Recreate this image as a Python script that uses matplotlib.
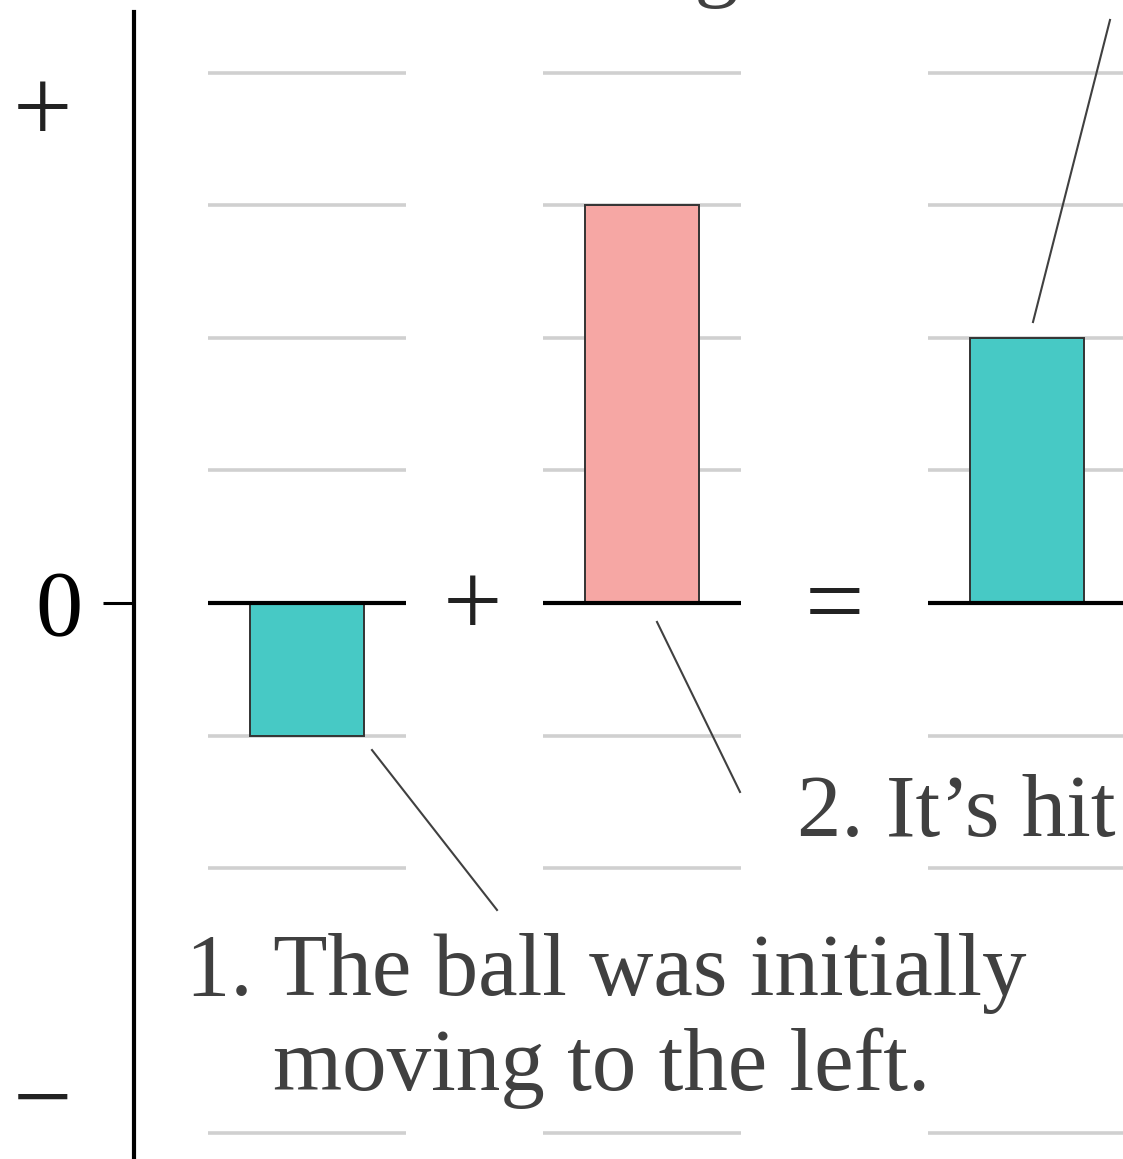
import matplotlib.pyplot as plt
import matplotlib as mpl

mpl.rcParams['font.family'] = 'Liberation Serif'

# momentum bar chart values (grid units)
labels = ['initial', 'impulse', 'final']
values = [-1, 3, 2]
bar_colors = ['#47c9c5', '#f6a7a4', '#47c9c5']
grid_levels = [-4, -2, -1, 1, 2, 3, 4]

# layout (x in units of 100 px from the axis, y in grid units)
group_x = [1.73, 5.075, 8.925]
bar_w = 1.14
half_line = 0.99
text_col = '#404040'
fs = 64
sign_fs = 76

fig = plt.figure(figsize=(11.23, 11.59), dpi=100)
ax = fig.add_axes([134 / 1123, 0, 1 - 134 / 1123, 1147 / 1159])
ax.set_xlim(0, 9.89)
ax.set_ylim(-4.193, 4.457)

for sp in ['top', 'right', 'bottom']:
    ax.spines[sp].set_visible(False)
ax.spines['left'].set_linewidth(3)
ax.set_xticks([])
ax.set_yticks([0])
ax.set_yticklabels(['0'], fontsize=68)
ax.tick_params(axis='y', length=22, width=2.2, pad=15)

# light grid rows and black zero line for each group
for gx in group_x:
    for lv in grid_levels:
        ax.plot([gx - half_line, gx + half_line], [lv, lv], color='#d0d0d0',
                lw=2.6, solid_capstyle='butt', zorder=1)

ax.bar(group_x, values, width=bar_w, color=bar_colors, edgecolor='#333333',
       linewidth=1.4, zorder=2)

for gx in group_x:
    ax.plot([gx - half_line, gx + half_line], [0, 0], color='black',
            lw=3, solid_capstyle='butt', zorder=3, clip_on=False)

# operators between groups
ax.text(3.38, -0.06, '+', fontsize=sign_fs, ha='center', va='center', color='#222222')
ax.text(7.0, -0.06, '=', fontsize=sign_fs, ha='center', va='center', color='#222222')

# axis sign labels
ax.text(-0.91, 3.67, '+', fontsize=sign_fs, ha='center', va='center',
        color='#222222', clip_on=False)
ax.text(-0.91, -3.80, '\u2212', fontsize=sign_fs, ha='center', va='center',
        color='#222222', clip_on=False)

# annotations with leader lines
lc = '#404040'
ax.plot([2.38, 3.63], [-1.109, -2.315], color=lc, lw=1.5, zorder=4)
ax.text(4.72, -2.956, '1. The ball was initially', fontsize=fs, ha='center',
        va='baseline', color=text_col)
ax.text(4.68, -3.673, 'moving to the left.', fontsize=fs, ha='center',
        va='baseline', color=text_col)

ax.plot([5.23, 6.06], [-0.143, -1.425], color=lc, lw=1.5, zorder=4)
ax.text(6.63, -1.757, '2. It\u2019s hit', fontsize=fs, ha='left',
        va='baseline', color=text_col, clip_on=False)

ax.plot([8.99, 9.76], [2.119, 4.397], color=lc, lw=1.5, zorder=4, clip_on=False)
ax.text(6.05, 4.62, 'moving', fontsize=fs, ha='right', va='baseline',
        color=text_col, clip_on=False)

fig.savefig('out.png', dpi=100)
